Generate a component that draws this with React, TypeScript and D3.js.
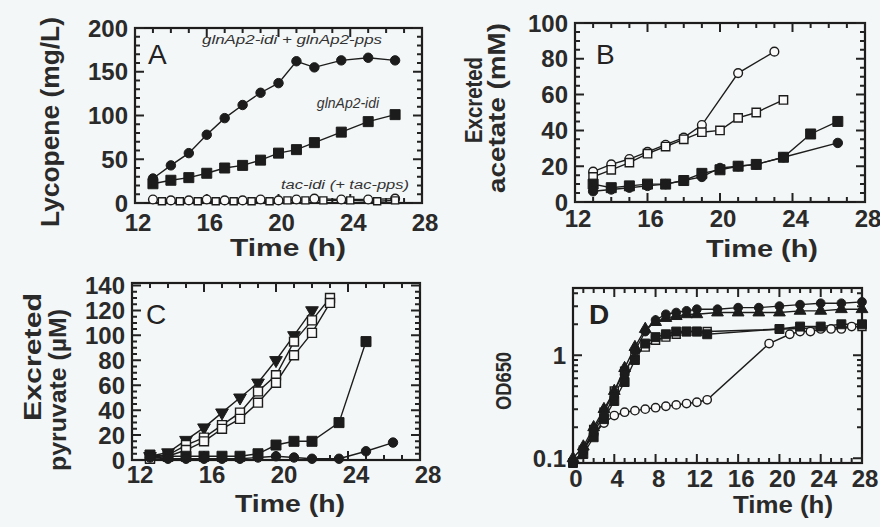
import React from 'react';
import * as d3 from 'd3';

// ---- Panel A: lycopene (mg/L) vs time (h)
const timeA = [13, 14, 15, 16, 17, 18, 19, 20, 21, 22, 23.5, 25, 26.5];
const lycIdiPps = [28, 43, 57, 78, 97, 112, 126, 137, 162, 155, 163, 166, 163];
const lycIdi = [22, 26, 29, 34, 40, 43, 49, 57, 61, 69, 81, 93, 101];
const timeA2 = [13.5, 14.5, 15.5, 16.5, 17.5, 18.5, 19.5, 20.5, 21.5, 22.5, 24, 25.5, 26.5];
const lycTacIdi = [4, 3, 3, 4, 3, 3, 4, 3, 4, 5, 4, 4, 5];
const lycTacIdiPps = [2, 2, 2, 2, 2, 2, 2, 3, 3, 3, 3, 2, 3];
const labelsA = ['glnAp2-idi + glnAp2-pps', 'glnAp2-idi', 'tac-idi (+ tac-pps)'];

// ---- Panel B: excreted acetate (mM)
const timeB1 = [13, 14, 15, 16, 17, 18, 19, 21, 23];
const aceOpenCirc = [17, 21, 24, 28, 32, 36, 43, 72, 84];
const timeB2 = [13, 14, 15, 16, 17, 18, 19, 20, 21, 22, 23.5];
const aceOpenSq = [14, 18, 22, 27, 31, 35, 39, 40, 47, 50, 57];
const timeB3 = [13, 14, 15, 16, 17, 18, 19, 20, 21, 22, 23.5, 25, 26.5];
const aceFilledSq = [10, 8, 9, 10, 10, 12, 16, 18, 20, 21, 25, 38, 45];
const timeB4 = [13, 14, 15, 16, 17, 18, 19, 20, 21, 22, 23.5, 26.5];
const aceFilledCirc = [6, 7, 8, 9, 10, 12, 14, 19, 20, 21, 25, 33];

// ---- Panel C: excreted pyruvate (uM)
const timeC1 = [13, 14, 15, 16, 17, 18, 19, 20, 21, 22];
const pyrTri = [3, 6, 16, 26, 38, 50, 62, 80, 100, 120];
const timeC2 = [13, 14, 15, 16, 17, 18, 19, 20, 21, 22, 23];
const pyrOpenSq1 = [2, 4, 12, 18, 28, 38, 55, 68, 95, 112, 130];
const pyrOpenSq2 = [1, 3, 8, 15, 25, 33, 46, 62, 84, 102, 126];
const timeC3 = [13, 14, 15, 16, 17, 18, 19, 20, 21, 22, 23.5, 25];
const pyrFilledSq = [4, 3, 3, 3, 3, 3, 5, 12, 15, 15, 30, 95];
const timeC4 = [13, 14, 15, 16, 17, 18, 19, 20, 21, 22, 23.5, 25, 26.5];
const pyrFilledCirc = [2, 1, 1, 1, 1, 1, 2, 3, 2, 1, 1, 7, 14];

// ---- Panel D: OD650 (log)
const timeD1 = [0, 1, 2, 3, 4, 5, 6, 7, 8, 9, 10, 11, 12, 14, 16, 18, 20, 22, 24, 26, 28];
const odFilledCirc = [0.09, 0.12, 0.18, 0.26, 0.4, 0.65, 1.1, 1.7, 2.2, 2.5, 2.6, 2.7, 2.8, 2.8, 2.9, 2.9, 3.0, 3.1, 3.2, 3.2, 3.3];
const odFilledTri = [0.1, 0.13, 0.2, 0.3, 0.45, 0.75, 1.2, 1.8, 2.1, 2.3, 2.4, 2.5, 2.5, 2.6, 2.6, 2.6, 2.6, 2.7, 2.7, 2.8, 2.8];
const timeD2 = [0, 1, 2, 3, 4, 5, 6, 7, 8, 9, 10, 11, 12, 13, 20, 22, 24, 26, 28];
const odFilledSq = [0.09, 0.11, 0.16, 0.24, 0.36, 0.55, 0.9, 1.3, 1.5, 1.6, 1.7, 1.7, 1.7, 1.6, 1.8, 1.9, 1.9, 2.0, 2.0];
const timeD3 = [1, 2, 3, 4, 5, 6, 7, 8, 9, 10, 11, 12, 13, 28];
const odOpenSq = [0.12, 0.19, 0.28, 0.45, 0.7, 1.0, 1.2, 1.4, 1.5, 1.6, 1.7, 1.7, 1.7, 1.9];
const timeD4 = [0, 1, 2, 3, 4, 5, 6, 7, 8, 9, 10, 11, 12, 13, 19, 21, 22, 23, 24, 25, 26, 27];
const odOpenCirc = [0.09, 0.12, 0.17, 0.22, 0.26, 0.28, 0.29, 0.3, 0.31, 0.32, 0.33, 0.34, 0.35, 0.37, 1.3, 1.6, 1.7, 1.7, 1.8, 1.8, 1.8, 1.9];

const INK = '#1c1c1c';
const FONT = '"Liberation Sans", Arial, sans-serif';

const shapes: any = {
  circle: d3.symbolCircle,
  square: d3.symbolSquare,
  triangle: d3.symbolTriangle,
};

const panels: any[] = [
  {
    letter: 'A', letterPos: [148, 64],
    left: 135, right: 422, top: 28, bottom: 203,
    xDomain: [12, 28], yDomain: [0, 200],
    xTicks: [12, 16, 20, 24, 28], xMinor: 1,
    yTicks: [0, 50, 100, 150, 200], yMinor: 10,
    xLabelY: 231, xLabelDx: 3,
    series: [
      { t: timeA, v: lycIdiPps, shape: 'circle', size: 70 },
      { t: timeA, v: lycIdi, shape: 'square', size: 100 },
      { t: timeA, v: lycTacIdi, shape: 'circle', open: true, size: 60 },
      { t: timeA2, v: lycTacIdiPps, shape: 'square', open: true, size: 50 },
    ],
  },
  {
    letter: 'B', letterPos: [596, 64],
    left: 575, right: 865, top: 23, bottom: 202,
    xDomain: [12, 28], yDomain: [0, 100],
    xTicks: [12, 16, 20, 24, 28], xMinor: 1,
    yTicks: [0, 20, 40, 60, 80, 100], yMinor: 5,
    xLabelY: 227, xLabelDx: 3,
    series: [
      { t: timeB1, v: aceOpenCirc, shape: 'circle', open: true, size: 60 },
      { t: timeB2, v: aceOpenSq, shape: 'square', open: true, size: 70 },
      { t: timeB3, v: aceFilledSq, shape: 'square', size: 100 },
      { t: timeB4, v: aceFilledCirc, shape: 'circle', size: 70 },
    ],
  },
  {
    letter: 'C', letterPos: [146, 324],
    left: 132, right: 420, top: 283, bottom: 460,
    xDomain: [12, 28], yDomain: [0, 142],
    xTicks: [12, 16, 20, 24, 28], xMinor: 1,
    yTicks: [0, 20, 40, 60, 80, 100, 120, 140], yMinor: 5,
    xLabelY: 483, xLabelDx: 8,
    series: [
      { t: timeC1, v: pyrTri, shape: 'triangle', down: true, size: 70 },
      { t: timeC2, v: pyrOpenSq1, shape: 'square', open: true, size: 80 },
      { t: timeC2, v: pyrOpenSq2, shape: 'square', open: true, size: 80 },
      { t: timeC3, v: pyrFilledSq, shape: 'square', size: 100 },
      { t: timeC4, v: pyrFilledCirc, shape: 'circle', size: 70 },
    ],
  },
  {
    letter: 'D', letterPos: [589, 324], letterBold: true,
    left: 573, right: 862, top: 288, bottom: 463,
    xDomain: [0, 28], yDomain: [0.09, 4.5], log: true,
    xTicks: [0, 4, 8, 12, 16, 20, 24, 28], xMinor: 1,
    yTicks: [0.1, 1], yMinorList: [0.2, 0.3, 0.4, 0.5, 0.6, 0.7, 0.8, 0.9, 2, 3, 4],
    xLabelY: 487, xLabelDx: 3,
    series: [
      { t: timeD4, v: odOpenCirc, shape: 'circle', open: true, size: 55 },
      { t: timeD3, v: odOpenSq, shape: 'square', open: true, size: 64 },
      { t: timeD2, v: odFilledSq, shape: 'square', size: 80 },
      { t: timeD1, v: odFilledTri, shape: 'triangle', size: 60 },
      { t: timeD1, v: odFilledCirc, shape: 'circle', size: 60 },
    ],
  },
];

function Panel({ p }: { p: any }) {
  const x = d3.scaleLinear().domain(p.xDomain).range([p.left, p.right]);
  const y = (p.log ? d3.scaleLog() : d3.scaleLinear()).domain(p.yDomain).range([p.bottom, p.top]);

  const xMinor = d3.range(p.xDomain[0], p.xDomain[1] + 0.001, p.xMinor);
  const yMinor = p.yMinorList || d3.range(p.yDomain[0], p.yDomain[1] + 0.001, p.yMinor);

  const line = (s: any) =>
    d3.line<number>()
      .x((_, i) => x(s.t[i]))
      .y((d) => y(d))(s.v);

  // inward ticks on all four sides
  const tickSegs: number[][] = [];
  const addX = (t: number, len: number) => {
    tickSegs.push([x(t), p.bottom, x(t), p.bottom - len]);
    tickSegs.push([x(t), p.top, x(t), p.top + len]);
  };
  const addY = (v: number, len: number) => {
    tickSegs.push([p.left, y(v), p.left + len, y(v)]);
    tickSegs.push([p.right, y(v), p.right - len, y(v)]);
  };
  xMinor.forEach((t: number) => addX(t, 5));
  p.xTicks.forEach((t: number) => addX(t, 9));
  yMinor.forEach((v: number) => addY(v, 5));
  p.yTicks.forEach((v: number) => addY(v, 9));

  return (
    <g>
      <rect x={p.left} y={p.top} width={p.right - p.left} height={p.bottom - p.top}
        fill="none" stroke={INK} strokeWidth={2.2} />
      <path d={tickSegs.map((d) => `M${d[0]},${d[1]}L${d[2]},${d[3]}`).join('')}
        stroke="#222" strokeWidth={2} fill="none" />
      {p.yTicks.map((v: number) => (
        <text key={'y' + v} x={p.left - 7} y={y(v)} textAnchor="end" dominantBaseline="central"
          fontSize={24} fontWeight="bold" fill="#2a2a2a">{v}</text>
      ))}
      {p.xTicks.map((t: number) => (
        <text key={'x' + t} x={x(t) + p.xLabelDx} y={p.xLabelY} textAnchor="middle"
          fontSize={24} fontWeight="bold" fill="#2a2a2a">{t}</text>
      ))}
      <text x={p.letterPos[0]} y={p.letterPos[1]} fontSize={28}
        fontWeight={p.letterBold ? 'bold' : 'normal'} fill="#222">{p.letter}</text>
      {p.series.map((s: any, i: number) => (
        <path key={'l' + i} d={line(s) || ''} fill="none" stroke={INK} strokeWidth={1.4} />
      ))}
      {p.series.map((s: any, i: number) => {
        const sym = d3.symbol().type(shapes[s.shape]).size(s.size)() || '';
        return (
          <g key={'m' + i}>
            {s.v.map((v: number, j: number) => (
              <path key={j} d={sym}
                transform={`translate(${x(s.t[j])},${y(v)})${s.down ? ' rotate(180)' : ''}`}
                fill={s.open ? '#fafafa' : INK} stroke={INK} strokeWidth={s.open ? 1.4 : 1} />
            ))}
          </g>
        );
      })}
    </g>
  );
}

function RotLabel({ x, y, text, len, size }: any) {
  return (
    <text transform={`translate(${x},${y}) rotate(-90)`} textAnchor="middle" dominantBaseline="central"
      fontSize={size} fontWeight="bold" fill="#2a2a2a" textLength={len} lengthAdjust="spacingAndGlyphs">
      {text}
    </text>
  );
}

export default function App() {
  return (
    <svg width={880} height={527} style={{ position: 'absolute', left: 0, top: 0, fontFamily: FONT }}>
      <rect width={880} height={527} fill="#f4f7f7" />
      {panels.map((p) => <Panel key={p.letter} p={p} />)}

      {/* panel A curve labels */}
      <text x={292} y={44} textAnchor="middle" fontSize={13} fontStyle="italic" fill="#333"
        textLength={180} lengthAdjust="spacingAndGlyphs">{labelsA[0]}</text>
      <text x={348} y={108} textAnchor="middle" fontSize={14} fontStyle="italic" fill="#333">{labelsA[1]}</text>
      <text x={345} y={189} textAnchor="middle" fontSize={12} fontStyle="italic" fill="#333"
        textLength={128} lengthAdjust="spacingAndGlyphs">{labelsA[2]}</text>

      {/* axis titles */}
      <RotLabel x={50} y={122} text="Lycopene (mg/L)" len={210} size={26} />
      <text x={288} y={247} textAnchor="middle" dominantBaseline="central" fontSize={24} fontWeight="bold"
        fill="#2a2a2a" textLength={116} lengthAdjust="spacingAndGlyphs">Time (h)</text>

      <RotLabel x={473} y={100} text="Excreted" len={86} size={24} />
      <RotLabel x={496} y={108} text="acetate (mM)" len={170} size={24} />
      <text x={762} y={248} textAnchor="middle" dominantBaseline="central" fontSize={24} fontWeight="bold"
        fill="#2a2a2a" textLength={112} lengthAdjust="spacingAndGlyphs">Time (h)</text>

      <RotLabel x={32} y={357} text="Excreted" len={128} size={24} />
      <RotLabel x={57} y={390} text="pyruvate (µM)" len={162} size={24} />
      <text x={290} y={503} textAnchor="middle" dominantBaseline="central" fontSize={24} fontWeight="bold"
        fill="#2a2a2a" textLength={110} lengthAdjust="spacingAndGlyphs">Time (h)</text>

      <RotLabel x={503} y={381} text="OD650" len={58} size={22} />
      <text x={783} y={504} textAnchor="middle" dominantBaseline="central" fontSize={24} fontWeight="bold"
        fill="#2a2a2a" textLength={100} lengthAdjust="spacingAndGlyphs">Time (h)</text>
    </svg>
  );
}
